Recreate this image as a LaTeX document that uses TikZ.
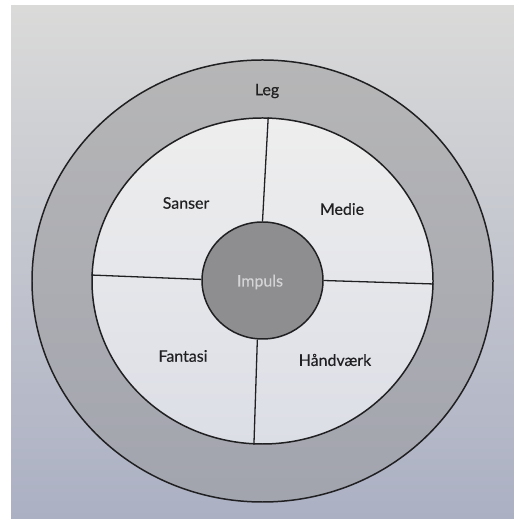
\documentclass[tikz,border=0pt]{standalone}
\usepackage{fontspec}
\setmainfont{Lato}[FakeBold=0.35]
\usetikzlibrary{shapes.geometric}
\definecolor{pagetop}{HTML}{DADAD9}
\definecolor{pagebot}{HTML}{ABB0C3}
\definecolor{ringtop}{HTML}{B6B6B7}
\definecolor{ringbot}{HTML}{A2A4AE}
\definecolor{innertop}{HTML}{EEEEEE}
\definecolor{innerbot}{HTML}{DCDEE6}
\definecolor{hubfill}{HTML}{8E8E91}
\definecolor{hubtext}{HTML}{D4D4D6}
\definecolor{inkc}{HTML}{202022}
\tikzset{
  ringshape/.style={ellipse, draw=inkc, line width=1.5pt, inner sep=0pt},
  divider/.style={draw=inkc, line width=1.3pt},
  lbl/.style={font=\fontsize{16}{19}\selectfont\addfontfeature{FakeBold=0.35}, text=inkc, inner sep=0pt}
}
\begin{document}
\begin{tikzpicture}[x=1bp,y=1bp]
\useasboundingbox (0,0) rectangle (514,519);
\fill[white] (0,0) rectangle (514,519);
\shade[top color=pagetop, bottom color=pagebot] (11,0) rectangle (514,513);
% outer ring
\node[ringshape, minimum width=461bp, minimum height=442bp, top color=ringtop, bottom color=ringbot] (outer) at (262.5,238) {};
% inner disc
\node[ringshape, minimum width=341bp, minimum height=326bp, top color=innertop, bottom color=innerbot] (inner) at (262.5,238) {};
% hub
\node[ringshape, minimum width=121bp, minimum height=117bp, fill=hubfill] (hub) at (262.5,238.5) {};
% dividers
\draw[divider] (inner.88.8) -- (hub.90.5);
\draw[divider] (inner.267.4) -- (hub.265);
\draw[divider] (inner.178.7) -- (hub.179);
\draw[divider] (inner.-1.35) -- (hub.-0.9);
% labels
\node[lbl] (leg) at (267,428) {Leg};
\node[lbl] (sanser) at (186,316) {Sanser};
\node[lbl] (medie) at (342,310) {Medie};
\node[lbl, text=hubtext] (impuls) at (260,237) {Impuls};
\node[lbl] (fantasi) at (183,163) {Fantasi};
\node[lbl] (haandvaerk) at (335,159) {Håndværk};
\end{tikzpicture}
\end{document}
